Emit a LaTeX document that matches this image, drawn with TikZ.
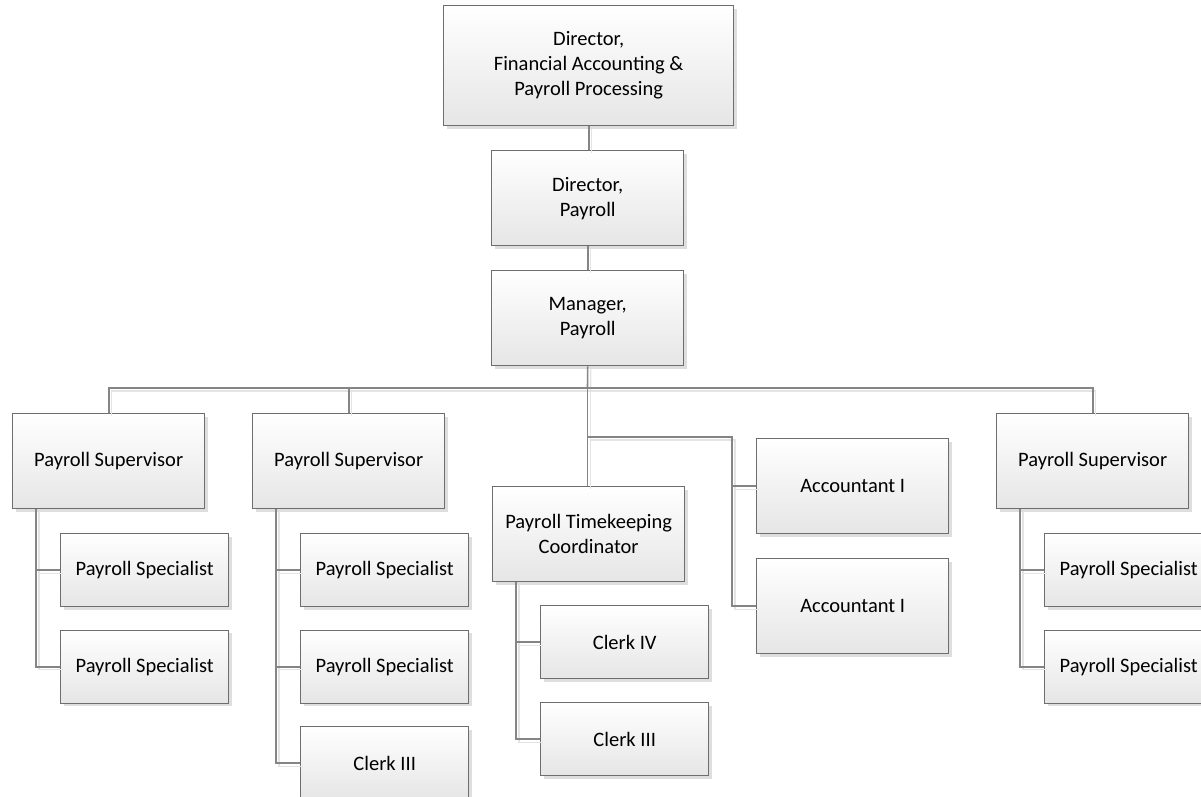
\documentclass[tikz,border=0pt]{standalone}
\usepackage{fontspec}
\setmainfont{Carlito}
\usetikzlibrary{shadows,calc}
\definecolor{boxborder}{HTML}{6E6E6E}
\definecolor{connline}{HTML}{858585}
\definecolor{connshadow}{HTML}{E4E4E4}
\tikzset{
  box/.style={draw=boxborder, line width=1.4pt, top color=white, bottom color=black!10,
    anchor=north west, align=center, inner sep=0pt,
    font=\fontsize{20.5}{25}\selectfont,
    drop shadow={shadow xshift=3pt, shadow yshift=-3pt, fill=black!13, opacity=1}},
  big/.style={box, minimum width=192pt, minimum height=95pt},
  small/.style={box, minimum width=168pt, minimum height=73pt},
  conn/.style={draw=connline, line width=1.6pt,
    preaction={draw=connshadow, line width=1.4pt, transform canvas={shift={(3pt,-3pt)}}}}
}
\begin{document}
\begin{tikzpicture}[x=1pt,y=-1pt]
\useasboundingbox (0,0) rectangle (1201,797);
\clip (0,0) rectangle (1201,797);
\coordinate (bus) at (587.5,388);
\coordinate (abr) at (587.5,437);
\coordinate (ax) at (732,437);
\node[box, minimum width=290pt, minimum height=120pt] (top) at (443,5) {\raisebox{-3pt}{\parbox{280pt}{\centering Director,\\Financial Accounting \&\\Payroll Processing}}};
\node[big] (dirp) at (491,150) {Director,\\Payroll};
\node[big] (mgr) at (491,270) {Manager,\\Payroll};
\node[big] (sup1) at (12,413) {Payroll Supervisor};
\node[big] (sup2) at (252,413) {Payroll Supervisor};
\node[big] (coord) at (492,486) {Payroll Timekeeping\\Coordinator};
\node[big] (acc1) at (756,438) {Accountant I};
\node[big] (acc2) at (756,558) {Accountant I};
\node[big] (sup3) at (996,413) {Payroll Supervisor};
\node[small] (s1a) at (60,533) {Payroll Specialist};
\node[small] (s1b) at (60,629.5) {Payroll Specialist};
\node[small] (s2a) at (300,533) {Payroll Specialist};
\node[small] (s2b) at (300,629.5) {Payroll Specialist};
\node[small] (s2c) at (300,726) {Clerk III};
\node[small] (c1) at (540,605) {Clerk IV};
\node[small] (c2) at (540,702) {Clerk III};
\node[small] (s3a) at (1044,533) {Payroll Specialist};
\node[small] (s3b) at (1044,629.5) {Payroll Specialist};
\draw[conn] (top.south) -- (top.south |- dirp.north);
\draw[conn] (dirp.south) -- (dirp.south |- mgr.north);
\draw[conn] (mgr.south) -- (bus);
\draw[conn] (bus) -| (sup1.north);
\draw[conn] (bus) -| (sup2.north);
\draw[conn] (bus) -| (sup3.north);
\draw[conn] (bus) -- (bus |- coord.north);
\draw[conn] (abr) -- (ax) |- (acc2.west);
\draw[conn] (ax |- acc1.west) -- (acc1.west);
\draw[conn] ([xshift=24pt]sup1.south west) |- (s1b.west);
\draw[conn] ([xshift=24pt]sup1.south west |- s1a.west) -- (s1a.west);
\draw[conn] ([xshift=24pt]sup2.south west) |- (s2c.west);
\draw[conn] ([xshift=24pt]sup2.south west |- s2a.west) -- (s2a.west);
\draw[conn] ([xshift=24pt]sup2.south west |- s2b.west) -- (s2b.west);
\draw[conn] ([xshift=24pt]coord.south west) |- (c2.west);
\draw[conn] ([xshift=24pt]coord.south west |- c1.west) -- (c1.west);
\draw[conn] ([xshift=24pt]sup3.south west) |- (s3b.west);
\draw[conn] ([xshift=24pt]sup3.south west |- s3a.west) -- (s3a.west);
\end{tikzpicture}
\end{document}
